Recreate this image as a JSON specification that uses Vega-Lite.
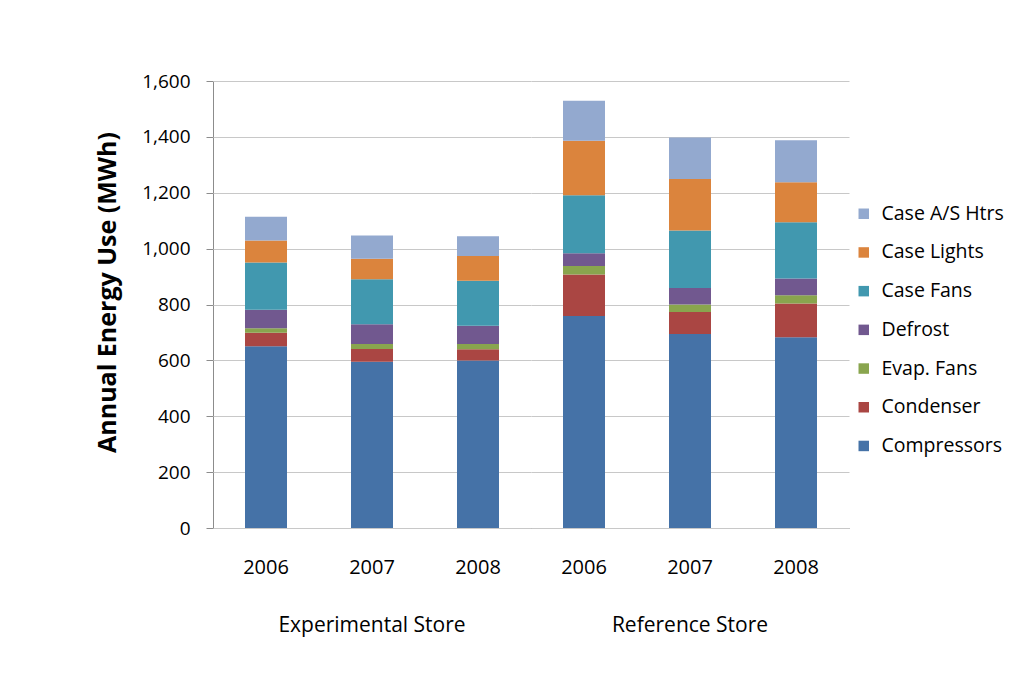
{
  "$schema": "https://vega.github.io/schema/vega-lite/v6.json",
  "background": "white",
  "autosize": {"type": "pad"},
  "padding": {"left": 95, "top": 72, "right": 5, "bottom": 5},
  "data": {"values": [
    {"store": "Experimental Store", "year": "2006", "part": "Compressors", "rank": 1, "mwh": 651},
    {"store": "Experimental Store", "year": "2006", "part": "Condenser", "rank": 2, "mwh": 48},
    {"store": "Experimental Store", "year": "2006", "part": "Evap. Fans", "rank": 3, "mwh": 16},
    {"store": "Experimental Store", "year": "2006", "part": "Defrost", "rank": 4, "mwh": 66},
    {"store": "Experimental Store", "year": "2006", "part": "Case Fans", "rank": 5, "mwh": 169},
    {"store": "Experimental Store", "year": "2006", "part": "Case Lights", "rank": 6, "mwh": 79},
    {"store": "Experimental Store", "year": "2006", "part": "Case A/S Htrs", "rank": 7, "mwh": 85},
    {"store": "Experimental Store", "year": "2007", "part": "Compressors", "rank": 1, "mwh": 595},
    {"store": "Experimental Store", "year": "2007", "part": "Condenser", "rank": 2, "mwh": 46},
    {"store": "Experimental Store", "year": "2007", "part": "Evap. Fans", "rank": 3, "mwh": 18},
    {"store": "Experimental Store", "year": "2007", "part": "Defrost", "rank": 4, "mwh": 70},
    {"store": "Experimental Store", "year": "2007", "part": "Case Fans", "rank": 5, "mwh": 161},
    {"store": "Experimental Store", "year": "2007", "part": "Case Lights", "rank": 6, "mwh": 74},
    {"store": "Experimental Store", "year": "2007", "part": "Case A/S Htrs", "rank": 7, "mwh": 83},
    {"store": "Experimental Store", "year": "2008", "part": "Compressors", "rank": 1, "mwh": 600},
    {"store": "Experimental Store", "year": "2008", "part": "Condenser", "rank": 2, "mwh": 40},
    {"store": "Experimental Store", "year": "2008", "part": "Evap. Fans", "rank": 3, "mwh": 19},
    {"store": "Experimental Store", "year": "2008", "part": "Defrost", "rank": 4, "mwh": 65},
    {"store": "Experimental Store", "year": "2008", "part": "Case Fans", "rank": 5, "mwh": 161},
    {"store": "Experimental Store", "year": "2008", "part": "Case Lights", "rank": 6, "mwh": 89},
    {"store": "Experimental Store", "year": "2008", "part": "Case A/S Htrs", "rank": 7, "mwh": 70},
    {"store": "Reference Store", "year": "2006", "part": "Compressors", "rank": 1, "mwh": 759},
    {"store": "Reference Store", "year": "2006", "part": "Condenser", "rank": 2, "mwh": 148},
    {"store": "Reference Store", "year": "2006", "part": "Evap. Fans", "rank": 3, "mwh": 31},
    {"store": "Reference Store", "year": "2006", "part": "Defrost", "rank": 4, "mwh": 45},
    {"store": "Reference Store", "year": "2006", "part": "Case Fans", "rank": 5, "mwh": 208},
    {"store": "Reference Store", "year": "2006", "part": "Case Lights", "rank": 6, "mwh": 195},
    {"store": "Reference Store", "year": "2006", "part": "Case A/S Htrs", "rank": 7, "mwh": 143},
    {"store": "Reference Store", "year": "2007", "part": "Compressors", "rank": 1, "mwh": 694},
    {"store": "Reference Store", "year": "2007", "part": "Condenser", "rank": 2, "mwh": 79},
    {"store": "Reference Store", "year": "2007", "part": "Evap. Fans", "rank": 3, "mwh": 27},
    {"store": "Reference Store", "year": "2007", "part": "Defrost", "rank": 4, "mwh": 59},
    {"store": "Reference Store", "year": "2007", "part": "Case Fans", "rank": 5, "mwh": 206},
    {"store": "Reference Store", "year": "2007", "part": "Case Lights", "rank": 6, "mwh": 184},
    {"store": "Reference Store", "year": "2007", "part": "Case A/S Htrs", "rank": 7, "mwh": 149},
    {"store": "Reference Store", "year": "2008", "part": "Compressors", "rank": 1, "mwh": 683},
    {"store": "Reference Store", "year": "2008", "part": "Condenser", "rank": 2, "mwh": 121},
    {"store": "Reference Store", "year": "2008", "part": "Evap. Fans", "rank": 3, "mwh": 29},
    {"store": "Reference Store", "year": "2008", "part": "Defrost", "rank": 4, "mwh": 60},
    {"store": "Reference Store", "year": "2008", "part": "Case Fans", "rank": 5, "mwh": 201},
    {"store": "Reference Store", "year": "2008", "part": "Case Lights", "rank": 6, "mwh": 144},
    {"store": "Reference Store", "year": "2008", "part": "Case A/S Htrs", "rank": 7, "mwh": 150}
  ]},
  "facet": {
    "column": {
      "field": "store", "type": "nominal",
      "sort": ["Experimental Store", "Reference Store"],
      "header": {
        "title": null, "labelOrient": "bottom", "labelFont": "Open Sans",
        "labelFontSize": 21, "labelColor": "#000000", "labelPadding": 38
      }
    }
  },
  "spacing": 0,
  "spec": {
    "width": 318,
    "height": 447,
    "mark": {"type": "bar", "width": 42},
    "encoding": {
      "x": {
        "field": "year", "type": "nominal",
        "scale": {"paddingInner": 0.6, "paddingOuter": 0.3},
        "axis": {"title": null, "labelAngle": 0, "ticks": false, "labelPadding": 29,
                 "labelFontSize": 20, "grid": false}
      },
      "y": {
        "field": "mwh", "type": "quantitative", "stack": "zero",
        "scale": {"domain": [0, 1600], "nice": false},
        "axis": {"title": "Annual Energy Use (MWh)", "format": ",.0f", "values": [0, 200, 400, 600, 800, 1000, 1200, 1400, 1600],
                 "tickSize": 7, "labelPadding": 16, "labelFontSize": 19,
                 "titleFontSize": 25, "titleFontWeight": "bold", "titlePadding": 21, "titleY": 211}
      },
      "order": {"field": "rank", "type": "quantitative", "sort": "ascending"},
      "color": {
        "field": "part", "type": "nominal",
        "scale": {
          "domain": ["Case A/S Htrs", "Case Lights", "Case Fans", "Defrost", "Evap. Fans", "Condenser", "Compressors"],
          "range": ["#93A9CF", "#DB843D", "#4198AF", "#71588F", "#89A54E", "#AA4643", "#4572A7"]
        },
        "legend": {
          "title": null,
          "symbolType": "square", "symbolSize": 110, "symbolStrokeWidth": 0,
          "labelFontSize": 19.5, "labelOffset": 8, "rowPadding": 17.7,
          "orient": "none", "legendX": 641, "legendY": 123, "padding": 0
        }
      }
    }
  },
  "config": {
    "font": "Open Sans",
    "view": {"stroke": null},
    "axis": {
      "labelColor": "#000000", "titleColor": "#000000", "labelFont": "Open Sans", "titleFont": "Open Sans",
      "domainColor": "#8C8C8C", "tickColor": "#8C8C8C", "gridColor": "#C8C8C8", "domainWidth": 1
    },
    "legend": {"labelColor": "#000000", "labelFont": "Open Sans"}
  }
}
